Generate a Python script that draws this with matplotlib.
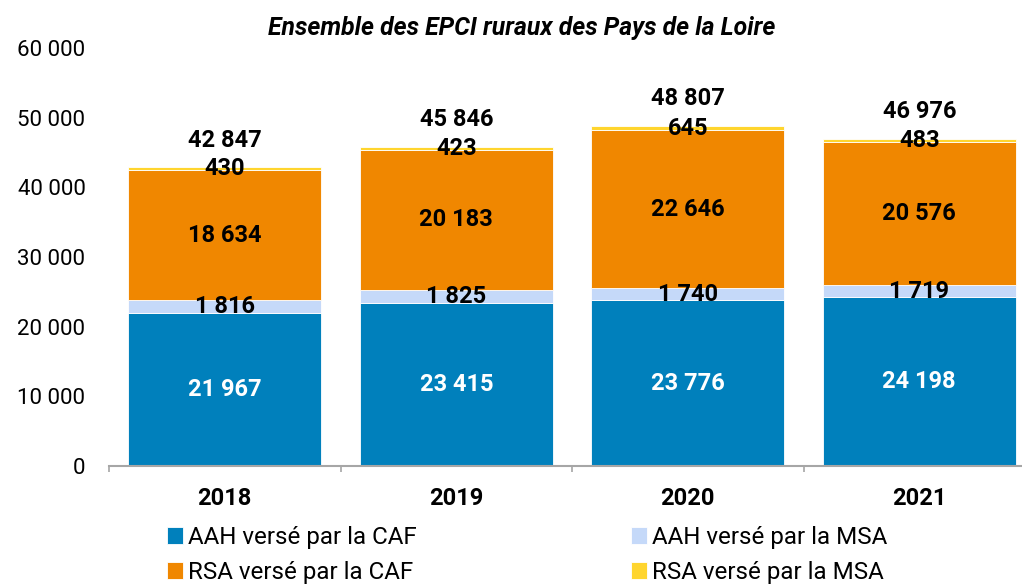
import matplotlib
matplotlib.use("Agg")
import matplotlib.pyplot as plt
import numpy as np
from matplotlib.ticker import FuncFormatter, FixedLocator

plt.rcParams["font.family"] = ["Roboto", "DejaVu Sans"]

years = ["2018", "2019", "2020", "2021"]
aah_caf = [21967, 23415, 23776, 24198]
aah_msa = [1816, 1825, 1740, 1719]
rsa_caf = [18634, 20183, 22646, 20576]
rsa_msa = [430, 423, 645, 483]
totals = [42847, 45846, 48807, 46976]

series = [
    ("AAH versé par la CAF", aah_caf, "#0080BC", "white"),
    ("AAH versé par la MSA", aah_msa, "#C5D9F9", "black"),
    ("RSA versé par la CAF", rsa_caf, "#F08700", "black"),
    ("RSA versé par la MSA", rsa_msa, "#FFD52E", "black"),
]


def fmt(v):
    return f"{v:,.0f}".replace(",", " ")


W, H = 1022, 586
fig = plt.figure(figsize=(W / 100, H / 100), dpi=100)
ax = fig.add_axes([109 / W, 1 - 466 / H, 926 / W, 418 / H])

x = np.arange(len(years))
bottom = np.zeros(len(years))
handles = []
for label, vals, color, tcolor in series:
    vals = np.array(vals, dtype=float)
    bars = ax.bar(x, vals, width=0.834, bottom=bottom, color=color,
                  edgecolor="white", linewidth=0.6, label=label)
    handles.append(bars)
    for xi, b, v in zip(x, bottom, vals):
        ax.text(xi, b + v / 2, fmt(v), ha="center", va="center",
                fontsize=17, fontweight="bold", color=tcolor)
    bottom += vals

for xi, t in zip(x, totals):
    ax.annotate(fmt(t), (xi, t), xytext=(0, 19.5), textcoords="offset points",
                ha="center", va="center", fontsize=17, fontweight="bold")

ax.set_xlim(-0.5, 3.5)
ax.set_ylim(0, 60000)
ax.yaxis.set_major_locator(FixedLocator(np.arange(0, 60001, 10000)))
ax.yaxis.set_major_formatter(FuncFormatter(lambda v, p: fmt(v)))
ax.tick_params(axis="y", length=0, pad=17, labelsize=16)

ax.set_xticks(x)
ax.set_xticklabels(years, fontsize=17, fontweight="bold")
ax.tick_params(axis="x", which="major", length=0, pad=15)
ax.set_xticks(np.arange(-0.5, 4, 1), minor=True)
ax.tick_params(axis="x", which="minor", length=4, color="#A6A6A6", width=1.2)

for s in ["top", "right", "left"]:
    ax.spines[s].set_visible(False)
ax.spines["bottom"].set_color("#A6A6A6")
ax.spines["bottom"].set_linewidth(1.5)

fig.text(522 / W, 1 - 28 / H, "Ensemble des EPCI ruraux des Pays de la Loire",
         ha="center", va="center", fontsize=17.8, fontweight="bold", style="italic")

# legend fills column by column: reorder so rows read AAH then RSA
order = [0, 2, 1, 3]
fig.legend(handles=[handles[i] for i in order],
           labels=[series[i][0] for i in order], ncol=2,
           loc="center left", bbox_to_anchor=(167 / W, 1 - 555 / H),
           frameon=False, fontsize=17.4, handlelength=0.65, handleheight=0.65,
           handletextpad=0.2, columnspacing=8.9, labelspacing=0.5,
           borderpad=0, borderaxespad=0)

fig.savefig("out.png", dpi=100)
